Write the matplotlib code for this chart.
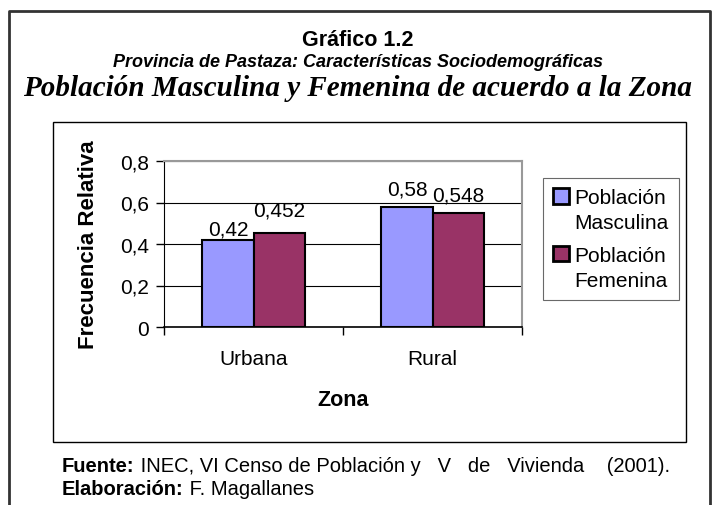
import matplotlib.pyplot as plt
from matplotlib.patches import Rectangle
from matplotlib.lines import Line2D
from matplotlib.legend_handler import HandlerPatch

# data
zonas = ['Urbana', 'Rural']
masculina = [0.42, 0.58]
femenina = [0.452, 0.548]
etiquetas_masc = ['0,42', '0,58']
etiquetas_fem = ['0,452', '0,548']
yticks = [0, 0.2, 0.4, 0.6, 0.8]
ytick_labels = ['0', '0,2', '0,4', '0,6', '0,8']

# label offsets above the bars (points), as placed in the original
off_masc = [4, 9]
off_fem = [13, 9]

W, H = 717, 506
plt.rcParams['font.family'] = ['Liberation Sans', 'DejaVu Sans']

fig = plt.figure(figsize=(W / 100, H / 100), dpi=100)


def fx(px):
    return px / W


def fy(py):
    return 1 - py / H


# outer frame (open at the bottom)
fig.add_artist(Line2D([fx(9), fx(9), fx(710), fx(710)],
                      [fy(515), fy(12), fy(12), fy(515)],
                      color='#333333', lw=2))
# inner chart frame
fig.add_artist(Rectangle((fx(53), fy(443)), fx(686) - fx(53), fy(123) - fy(443),
                         fill=False, edgecolor='black', lw=1))

# titles
fig.text(fx(358), fy(40), 'Gráfico 1.2', ha='center', va='center',
         fontsize=15.5, fontweight='bold')
fig.text(fx(358), fy(63), 'Provincia de Pastaza: Características Sociodemográficas',
         ha='center', va='center', fontsize=13, fontweight='bold', style='italic')
fig.text(fx(358), fy(89), 'Población Masculina y Femenina de acuerdo a la Zona',
         ha='center', va='center', fontsize=21, fontweight='bold', style='italic',
         family=['Liberation Serif', 'DejaVu Serif'])

# plot area
ax = fig.add_axes([fx(164), fy(328), fx(522) - fx(164), fy(162) - fy(328)])
x = [0, 1]
w = 0.285
b1 = ax.bar([i - w / 2 for i in x], masculina, w, color='#9999FF',
            edgecolor='black', lw=1.5, zorder=3)
b2 = ax.bar([i + w / 2 for i in x], femenina, w, color='#993366',
            edgecolor='black', lw=1.5, zorder=3)

for i in range(len(x)):
    ax.annotate(etiquetas_masc[i], (x[i] - w / 2, masculina[i]),
                xytext=(0, off_masc[i]), textcoords='offset points',
                ha='center', va='baseline', fontsize=15)
    ax.annotate(etiquetas_fem[i], (x[i] + w / 2, femenina[i]),
                xytext=(0, off_fem[i]), textcoords='offset points',
                ha='center', va='baseline', fontsize=15)

ax.set_xlim(-0.5, 1.5)
ax.set_ylim(0, 0.8)
ax.set_yticks(yticks)
ax.set_yticklabels(ytick_labels, fontsize=15)
ax.set_xticks(x)
ax.set_xticklabels(zonas, fontsize=15)
ax.tick_params(axis='x', length=0, pad=16)
ax.tick_params(axis='y', length=6, direction='out', width=1, pad=5)
# category separator ticks
ax.set_xticks([-0.5, 0.5, 1.5], minor=True)
ax.tick_params(axis='x', which='minor', length=6, direction='out', width=1)
ax.grid(axis='y', color='black', lw=0.8, zorder=0)
ax.set_axisbelow(True)

for s in ['top', 'right']:
    ax.spines[s].set_color('#999999')
    ax.spines[s].set_linewidth(1.5)
ax.spines['left'].set_color('black')
ax.spines['bottom'].set_color('black')
ax.spines['bottom'].set_linewidth(1.2)

ax.set_ylabel('Frecuencia Relativa', fontsize=16, fontweight='bold', labelpad=15)
ax.set_xlabel('Zona', fontsize=15.5, fontweight='bold', labelpad=15)


# legend square sits next to the first line of the label
def top_square(legend, orig_handle, xdescent, ydescent, width, height, fontsize):
    return Rectangle((-xdescent, -ydescent + 0.7 * fontsize), width, height)


handler = HandlerPatch(patch_func=top_square)
h1, h2 = b1.patches[0], b2.patches[0]
leg = fig.legend([h1, h2], ['Población\nMasculina', 'Población\nFemenina'],
                 loc='upper left', bbox_to_anchor=(fx(543), fy(179)), fontsize=15,
                 frameon=True, fancybox=False, edgecolor='#444444',
                 handlelength=0.75, handleheight=0.75, handletextpad=0.25,
                 borderpad=0.5, labelspacing=0.65, borderaxespad=0,
                 handler_map={h1: handler, h2: handler})
leg.get_frame().set_linewidth(0.8)
for p in leg.get_patches():
    p.set_linewidth(2)
for t in leg.get_texts():
    t.set_linespacing(1.4)

# footer: bold lead-in followed by regular text
fig.canvas.draw()
r = fig.canvas.get_renderer()
footer = [('Fuente:', ' INEC, VI Censo de Población y   V   de   Vivienda    (2001).', 467),
          ('Elaboración:', ' F. Magallanes', 490)]
for bold, rest, py in footer:
    t = fig.text(fx(62), fy(py), bold, ha='left', va='center',
                 fontsize=14.5, fontweight='bold')
    bb = t.get_window_extent(renderer=r)
    fig.text(bb.x1 / W, fy(py), rest, ha='left', va='center', fontsize=14.5)

fig.savefig('out.png', dpi=100)
